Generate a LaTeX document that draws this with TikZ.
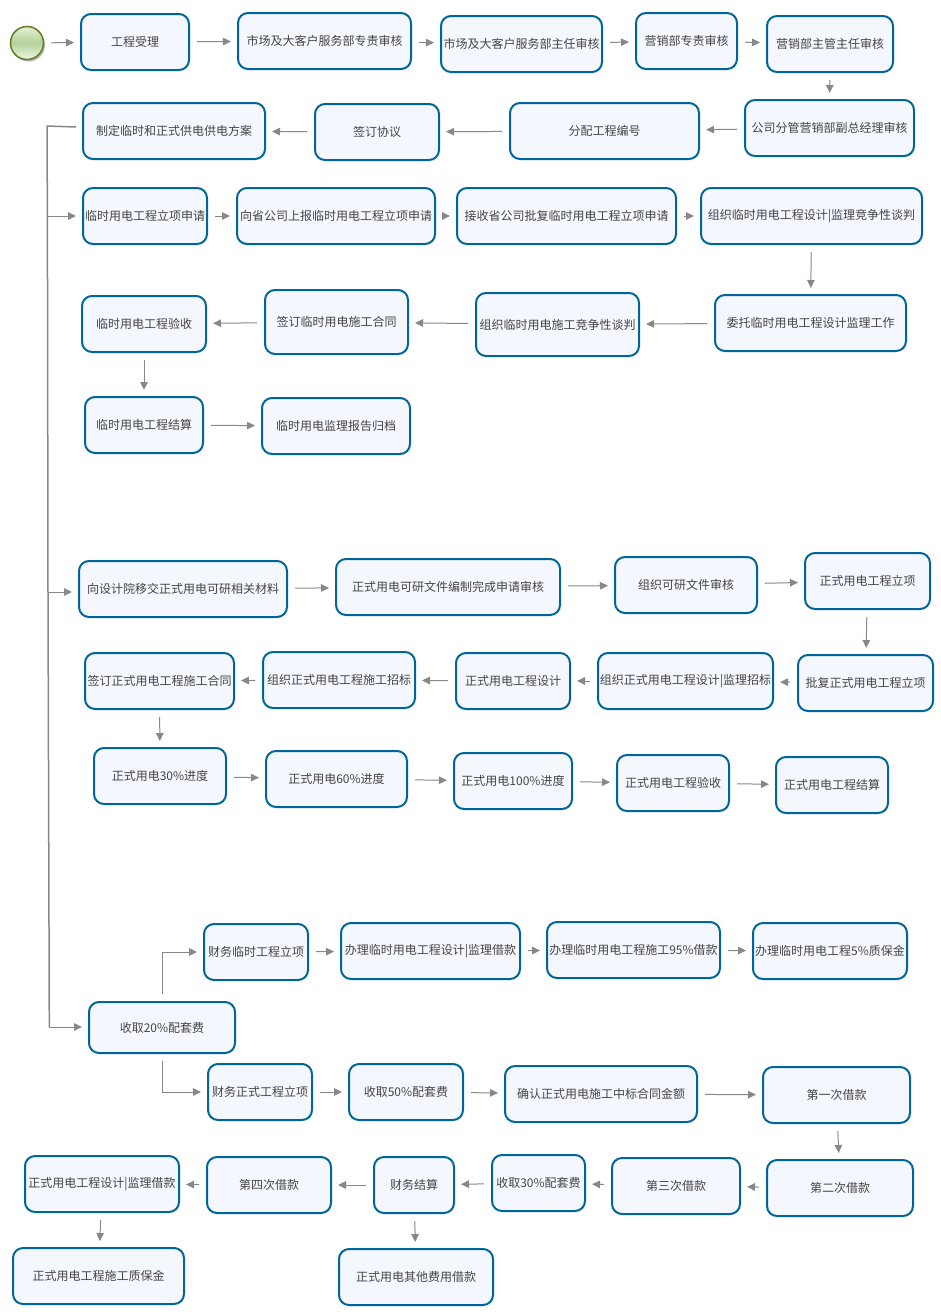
\documentclass[tikz,border=0pt]{standalone}
\usepackage{fontspec}
\setmainfont{Noto Sans CJK SC}
\usetikzlibrary{arrows.meta,shadows,calc}
\definecolor{boxline}{HTML}{006699}
\definecolor{boxfill}{HTML}{F5F7FF}
\definecolor{wire}{HTML}{888888}
\definecolor{txt}{HTML}{444444}
\definecolor{stline}{HTML}{5F7F1F}
\definecolor{sttop}{HTML}{E6F1D6}
\definecolor{stmid}{HTML}{B4D09A}
\definecolor{stbot}{HTML}{F0F6E6}
\newcommand{\bx}[6]{%
  \pgfmathsetmacro{\cxx}{(#2+#4)/2}%
  \pgfmathsetmacro{\cyy}{(#3+#5)/2}%
  \pgfmathsetmacro{\www}{#4-#2}%
  \pgfmathsetmacro{\hhh}{#5-#3}%
  \node[pbox,minimum width=\www pt,minimum height=\hhh pt] (#1) at (\cxx,\cyy) {#6};}
\newcommand{\cn}[2]{\draw[flow] (#1) -- (#2);}
\tikzset{
  pbox/.style={draw=boxline,fill=boxfill,line width=2pt,rounded corners=10pt,inner sep=0pt,text=txt,font=\fontsize{12pt}{14pt}\selectfont},
  flow/.style={draw=wire,line width=1pt,shorten <=7pt,shorten >=6pt,-{Triangle[length=8pt,width=7.5pt,fill=wire]}},
  spine/.style={draw=wire,line width=1.5pt,line join=round},
  startev/.style={circle,draw=stline,line width=1.5pt,minimum size=33pt,inner sep=0pt,
    top color=sttop,bottom color=stbot,middle color=stmid,
    drop shadow={shadow xshift=1.5pt,shadow yshift=-2pt,opacity=.4,fill=black!70}}
}
\begin{document}
\begin{tikzpicture}[x=1pt,y=-1pt]
\useasboundingbox (0,0) rectangle (940,1312);
\fill[white] (0,0) rectangle (940,1312);
\node[startev] (st) at (27,43) {};
\bx{a1}{81}{14}{189}{70}{工程受理}
\bx{a2}{238}{13}{411}{69}{市场及大客户服务部专责审核}
\bx{a3}{441}{16}{602}{72}{市场及大客户服务部主任审核}
\bx{a4}{636}{13}{737}{69}{营销部专责审核}
\bx{a5}{767}{16}{893}{72}{营销部主管主任审核}
\bx{a6}{745}{100}{914}{156}{公司分管营销部副总经理审核}
\bx{b1}{510}{103}{699}{159}{分配工程编号}
\bx{b2}{315}{104}{439}{160}{签订协议}
\bx{b3}{83}{103}{265}{159}{制定临时和正式供电供电方案}
\bx{c1}{83}{188}{207}{244}{临时用电工程立项申请}
\bx{c2}{237}{188}{435}{244}{向省公司上报临时用电工程立项申请}
\bx{c3}{457}{188}{676}{244}{接收省公司批复临时用电工程立项申请}
\bx{c4}{701}{188}{922}{244}{组织临时用电工程设计|监理竞争性谈判}
\bx{d1}{715}{295}{906}{351}{委托临时用电工程设计监理工作}
\bx{d2}{476}{293}{639}{356}{组织临时用电施工竞争性谈判}
\bx{d3}{265}{290}{408}{354}{签订临时用电施工合同}
\bx{d4}{82}{296}{206}{352}{临时用电工程验收}
\bx{e1}{85}{397}{203}{453}{临时用电工程结算}
\bx{e2}{262}{398}{410}{454}{临时用电监理报告归档}
\bx{f1}{79}{561}{287}{617}{向设计院移交正式用电可研相关材料}
\bx{f2}{336}{559}{560}{615}{正式用电可研文件编制完成申请审核}
\bx{f3}{615}{557}{757}{613}{组织可研文件审核}
\bx{f4}{805}{553}{930}{609}{正式用电工程立项}
\bx{g1}{798}{655}{933}{711}{批复正式用电工程立项}
\bx{g2}{598}{653}{773}{709}{组织正式用电工程设计|监理招标}
\bx{g3}{456}{653}{570}{709}{正式用电工程设计}
\bx{g4}{263}{652}{415}{708}{组织正式用电工程施工招标}
\bx{g5}{85}{653}{234}{709}{签订正式用电工程施工合同}
\bx{h1}{94}{748}{226}{804}{正式用电30\%进度}
\bx{h2}{266}{751}{407}{807}{正式用电60\%进度}
\bx{h3}{454}{753}{572}{809}{正式用电100\%进度}
\bx{h4}{617}{755}{729}{811}{正式用电工程验收}
\bx{h5}{776}{757}{888}{813}{正式用电工程结算}
\bx{i1}{204}{924}{308}{980}{财务临时工程立项}
\bx{i2}{341}{923}{520}{979}{办理临时用电工程设计|监理借款}
\bx{i3}{547}{922}{720}{978}{办理临时用电工程施工95\%借款}
\bx{i4}{753}{923}{907}{979}{办理临时用电工程5\%质保金}
\bx{j}{89}{1002}{235}{1053}{收取20\%配套费}
\bx{k1}{208}{1064}{312}{1120}{财务正式工程立项}
\bx{k2}{349}{1064}{463}{1120}{收取50\%配套费}
\bx{k3}{505}{1066}{697}{1122}{确认正式用电施工中标合同金额}
\bx{k4}{763}{1067}{910}{1123}{第一次借款}
\bx{l1}{767}{1160}{913}{1216}{第二次借款}
\bx{l2}{612}{1158}{740}{1214}{第三次借款}
\bx{l3}{492}{1155}{585}{1211}{收取30\%配套费}
\bx{l4}{374}{1157}{454}{1213}{财务结算}
\bx{l5}{207}{1157}{331}{1213}{第四次借款}
\bx{l6}{25}{1156}{179}{1212}{正式用电工程设计|监理借款}
\bx{m1}{13}{1248}{184}{1304}{正式用电工程施工质保金}
\bx{m2}{339}{1249}{493}{1305}{正式用电其他费用借款}
% connectors
\cn{st}{a1}\cn{a1}{a2}\cn{a2}{a3}\cn{a3}{a4}\cn{a4}{a5}\cn{a5}{a6}
\cn{a6}{b1}\cn{b1}{b2}\cn{b2}{b3}
\cn{c1}{c2}\cn{c2}{c3}\cn{c3}{c4}\cn{c4}{d1}\cn{d1}{d2}\cn{d2}{d3}\cn{d3}{d4}\cn{d4}{e1}\cn{e1}{e2}
\cn{f1}{f2}\cn{f2}{f3}\cn{f3}{f4}\cn{f4}{g1}\cn{g1}{g2}\cn{g2}{g3}\cn{g3}{g4}\cn{g4}{g5}\cn{g5}{h1}
\cn{h1}{h2}\cn{h2}{h3}\cn{h3}{h4}\cn{h4}{h5}
\cn{i1}{i2}\cn{i2}{i3}\cn{i3}{i4}
\cn{k1}{k2}\cn{k2}{k3}\cn{k3}{k4}\cn{k4}{l1}\cn{l1}{l2}\cn{l2}{l3}\cn{l3}{l4}\cn{l4}{l5}\cn{l5}{l6}\cn{l6}{m1}\cn{l4}{m2}
\draw[flow] (j.north) |- (i1.west);
\draw[flow] (j.south) |- (k1.west);
% spine
\coordinate (sp00) at (76,127);
\coordinate (sp0) at (47,126);
\coordinate (sp1) at (47.4,216);
\coordinate (sp2) at (48,592);
\coordinate (sp3) at (49.3,1027);
\draw[spine] (sp00) -- (sp0) -- (sp1) -- (sp2) -- (sp3);
\draw[flow,shorten <=0pt] (sp1) -- (sp1-|c1.west);
\draw[flow,shorten <=0pt] (sp2) -- (sp2-|f1.west);
\draw[flow,shorten <=0pt] (sp3) -- (sp3-|j.west);
\end{tikzpicture}
\end{document}
